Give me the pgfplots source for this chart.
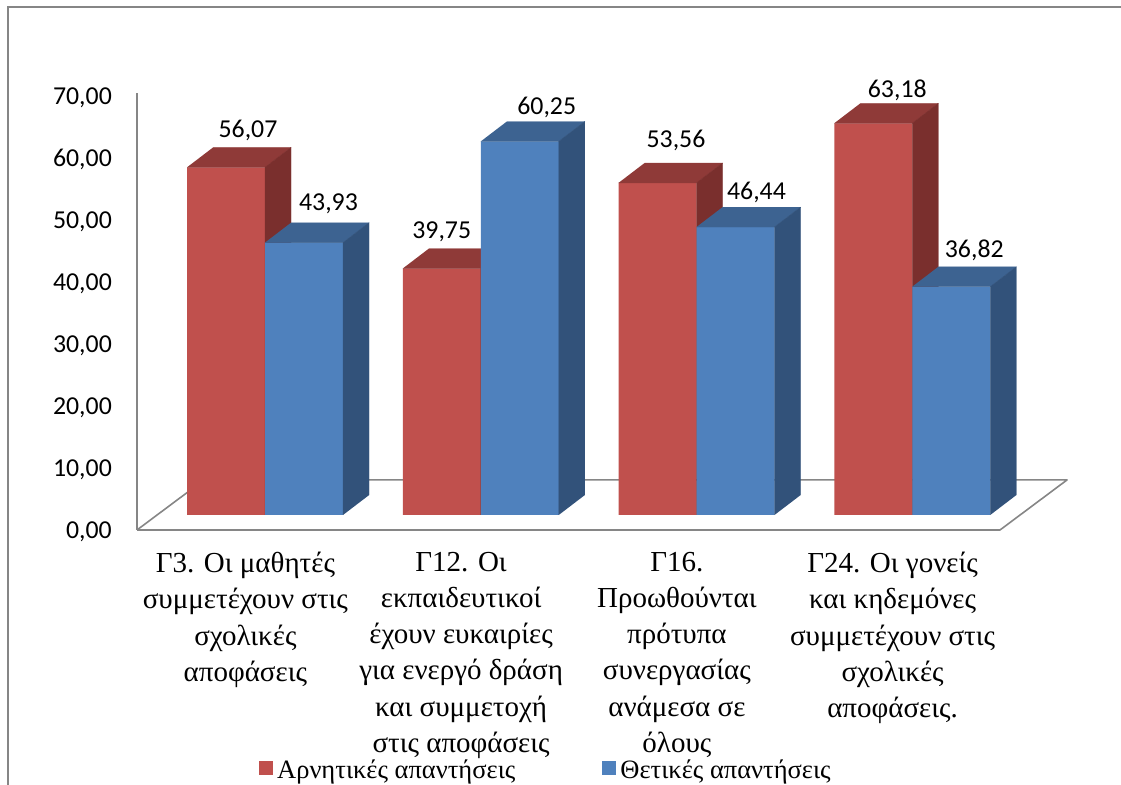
\documentclass[border=0pt]{standalone}
\usepackage{fontspec}
\setmainfont{Liberation Serif}
\newfontfamily\carlito{Carlito}
\usepackage{pgfplots}
\usepackage{pgfplotstable}
\pgfplotsset{compat=1.18}
\definecolor{redfront}{RGB}{192,80,77}
\definecolor{redtop}{RGB}{143,58,56}
\definecolor{redside}{RGB}{122,47,45}
\definecolor{bluefront}{RGB}{79,129,189}
\definecolor{bluetop}{RGB}{61,99,145}
\definecolor{blueside}{RGB}{50,82,122}
\definecolor{axgray}{RGB}{134,134,134}

% x = bar centre (px), v = value, lx/ly = label offset (px)
\pgfplotstableread{
x v lx ly
226 56.07 22 30
441.75 39.75 0 30
657.5 53.56 18.5 35
873.25 63.18 24 26
}\tneg
\pgfplotstableread{
x v lx ly
304 43.93 24.5 32
519.75 60.25 27 27
735.5 46.44 21 28
951.25 36.82 23 29
}\tpos

\newcommand\prism[4]{%
  \pgfplotstablegetelem{#2}{x}\of{#1}\let\cx\pgfplotsretval
  \pgfplotstablegetelem{#2}{v}\of{#1}\let\cv\pgfplotsretval
  \pgfmathsetmacro\xl{\cx-39}\pgfmathsetmacro\xr{\cx+39}%
  \pgfmathsetmacro\xlb{\cx-13}\pgfmathsetmacro\xrb{\cx+65}%
  \pgfmathsetmacro\vt{\cv+3.2}%
  \edef\tmp{\noexpand\addplot[fill=#3,draw=#3,line width=0.3bp,forget plot]
      coordinates {(\xl,\cv) (\xr,\cv) (\xrb,\vt) (\xlb,\vt)};
    \noexpand\addplot[fill=#4,draw=#4,line width=0.3bp,forget plot]
      coordinates {(\xr,0) (\xr,\cv) (\xrb,\vt) (\xrb,3.2)};}%
  \tmp}

\pgfplotsset{
  frontbar/.style={ybar, bar width=78, bar shift=0, draw=none, fill=#1,
    legend image code/.code={\fill[fill=#1] (0bp,-5bp) rectangle (14bp,9bp);},
    visualization depends on={\thisrow{lx} \as \lx},
    visualization depends on={\thisrow{ly} \as \ly},
    nodes near coords={\pgfmathprintnumber[fixed, fixed zerofill, precision=2, use comma, assume math mode=true]{\pgfplotspointmeta}},
    every node near coord/.append style={font=\carlito\fontsize{25.8bp}{30bp}\selectfont, text=black, anchor=base, inner sep=0pt, xshift=\lx bp, yshift=\ly bp}},
}

\begin{document}
\begin{tikzpicture}
\begin{axis}[name=ax,
  x=1bp, y=6.2bp,
  xmin=0, xmax=1121, ymin=-43.55, ymax=83.06,
  enlargelimits=false, clip=false,
  axis line style={draw=none}, tick style={draw=none},
  ytick={-2.68,7.32,17.32,27.32,37.32,47.32,57.32,67.32},
  yticklabels={{0,00},{10,00},{20,00},{30,00},{40,00},{50,00},{60,00},{70,00}},
  yticklabel style={anchor=east, xshift=112bp, inner sep=0pt, font=\carlito\fontsize{25.8bp}{30bp}\selectfont},
  xtick={245.4,461.1,676.9,892.6},
  xticklabels={
    {Γ3. Οι μαθητές\\συμμετέχουν στις\\σχολικές\\αποφάσεις},
    {Γ12. Οι\\εκπαιδευτικοί\\έχουν ευκαιρίες\\για ενεργό δράση\\και συμμετοχή\\στις αποφάσεις},
    {Γ16.\\Προωθούνται\\πρότυπα\\συνεργασίας\\ανάμεσα σε\\όλους},
    {Γ24. Οι γονείς\\και κηδεμόνες\\συμμετέχουν στις\\σχολικές\\αποφάσεις.}},
  xticklabel style={anchor=north, yshift=233bp, inner sep=0pt, align=center,
    font=\fontsize{29bp}{36.2bp}\selectfont},
  legend style={at={(axis description cs:0.231,0.019)}, anchor=west, draw=none, fill=none,
    font=\fontsize{26.5bp}{31bp}\selectfont, legend columns=2, inner sep=0pt,
    nodes={inner xsep=4bp, inner ysep=0pt},
    /tikz/every even column/.append style={column sep=83bp}},
  legend cell align=left,
]
% outer frame
\addplot[axgray, line width=2bp, forget plot] coordinates {(8,-43.55) (8,81.94) (1121,81.94)};
% vertical axis line and floor
\addplot[axgray, line width=1.6bp, line join=round, forget plot] coordinates {(137,68.02) (137,-2.42)};
\addplot[axgray, line width=1.6bp, line join=round, forget plot] coordinates {(137,-2.42) (1000,-2.42) (1067,5.65) (204,5.65) (137,-2.42)};
% negative answers
\addplot[frontbar=redfront] table[x=x, y=v] {\tneg};
\addlegendentry{Αρνητικές απαντήσεις}
\prism{\tneg}{0}{redtop}{redside}
\prism{\tneg}{1}{redtop}{redside}
\prism{\tneg}{2}{redtop}{redside}
\prism{\tneg}{3}{redtop}{redside}
% positive answers
\addplot[frontbar=bluefront] table[x=x, y=v] {\tpos};
\addlegendentry{Θετικές απαντήσεις}
\prism{\tpos}{0}{bluetop}{blueside}
\prism{\tpos}{1}{bluetop}{blueside}
\prism{\tpos}{2}{bluetop}{blueside}
\prism{\tpos}{3}{bluetop}{blueside}
\end{axis}
\pgfresetboundingbox
\path[use as bounding box] (ax.south west) rectangle (ax.north east);
\end{tikzpicture}
\end{document}
